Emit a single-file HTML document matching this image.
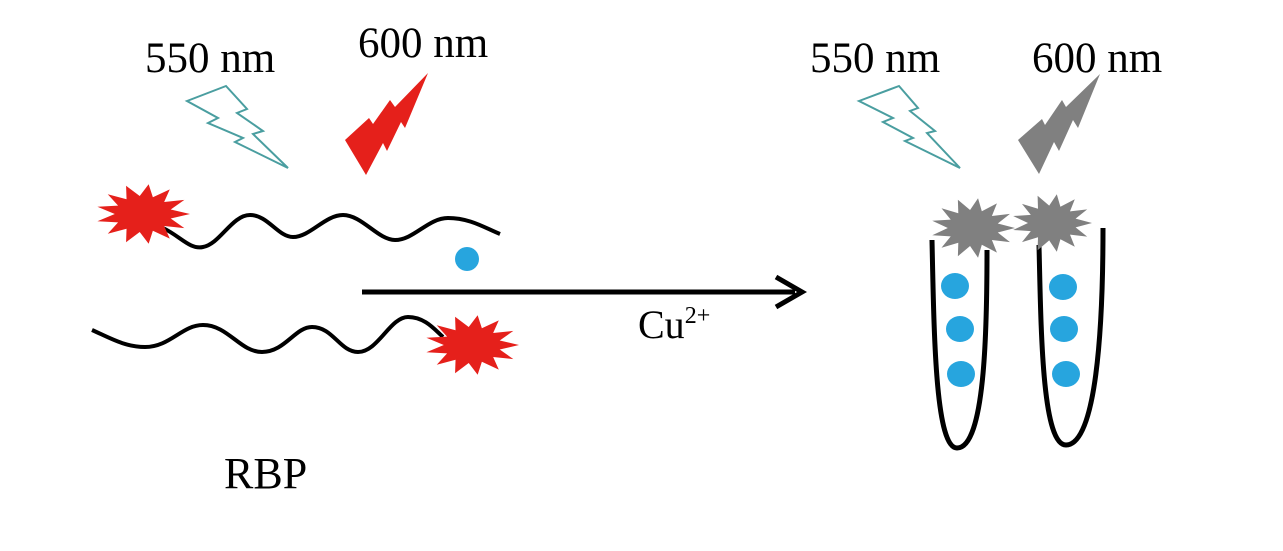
<!DOCTYPE html>
<html><head><meta charset="utf-8"><style>
html,body{margin:0;padding:0;background:#fff;}
svg{display:block;}
text{font-family:"Liberation Serif",serif;fill:#000;}
</style></head><body>
<svg width="1283" height="551" viewBox="0 0 1283 551" xmlns="http://www.w3.org/2000/svg">
<defs>
<polygon id="star" points="100,0 59,15 88,47 45,40 57,82 21,56 12,99 -7,60 -36,94 -35,49 -75,66 -53,28 -97,24 -60,0 -97,-24 -53,-28 -75,-66 -35,-49 -36,-94 -7,-60 12,-99 21,-56 57,-82 45,-40 88,-47 59,-15"/>
</defs>
<!-- labels -->
<text x="145" y="72" font-size="43">550 nm</text>
<text x="358" y="57" font-size="43">600 nm</text>
<text x="810" y="72" font-size="43">550 nm</text>
<text x="1032" y="72" font-size="43">600 nm</text>
<text x="224" y="488" font-size="44">RBP</text>
<text x="638" y="338" font-size="40">Cu<tspan font-size="24" dy="-15">2+</tspan></text>

<!-- left bolts -->
<polygon points="187,101 226,86 247,109 237,113 263,131 253,134 288,168 235,142 243,138 208,123 218,118" fill="none" stroke="#4a9ea0" stroke-width="2"/>
<polygon points="428,73 405,128 401,122 387,151 383,143 366,175 345,140 369,118 373,124 390,100 395,107" fill="#e5201b"/>

<!-- waves -->
<path d="M163,228 C180,236 190,250 203,247 C220,244 232,215 250,215 C268,215 278,237 293,237 C310,237 325,215 343,215 C362,215 378,240 395,240 C414,240 428,218 448,218 C470,218 485,228 500,234" fill="none" stroke="#000" stroke-width="4"/>
<path d="M92,330 C110,338 125,347 145,347 C170,347 182,325 203,325 C228,325 240,352 262,352 C285,352 295,327 312,327 C333,327 340,352 358,352 C378,352 390,317 408,317 C425,317 435,330 443,337" fill="none" stroke="#000" stroke-width="4"/>
<use href="#star" transform="translate(143,214) scale(0.47,0.30)" fill="#e5201b"/>
<use href="#star" transform="translate(472,345) scale(0.47,0.30)" fill="#e5201b"/>

<!-- arrow -->
<circle cx="467" cy="259" r="12" fill="#27a5de"/>
<line x1="362" y1="292" x2="795" y2="292" stroke="#000" stroke-width="5"/>
<polyline points="776,277 802,292 776,307" fill="none" stroke="#000" stroke-width="5"/>

<!-- right bolts -->
<polygon points="859,101 899,86 918,108 910,111 935,131 927,133 960,168 905,141 913,138 883,122 893,118" fill="none" stroke="#4a9ea0" stroke-width="2"/>
<polygon points="1100,74 1078,128 1073,120 1059,151 1054,142 1039,174 1018,140 1042,119 1045,125 1062,100 1066,107" fill="#808080"/>

<!-- tubes -->
<path d="M932,240 C934,330 935,448 957,448 C985,448 987,330 987,250" fill="none" stroke="#000" stroke-width="5"/>
<path d="M1039,245 C1041,330 1042,445 1066,445 C1096,445 1103,330 1103,228" fill="none" stroke="#000" stroke-width="5"/>
<use href="#star" transform="translate(973,228) scale(0.42,0.30)" fill="#808080"/>
<use href="#star" transform="translate(1052,223) scale(0.40,0.29)" fill="#808080"/>
<ellipse cx="955" cy="286" rx="14" ry="13" fill="#27a5de"/>
<ellipse cx="960" cy="329" rx="14" ry="13" fill="#27a5de"/>
<ellipse cx="961" cy="374" rx="14" ry="13" fill="#27a5de"/>
<ellipse cx="1063" cy="287" rx="14" ry="13" fill="#27a5de"/>
<ellipse cx="1064" cy="329" rx="14" ry="13" fill="#27a5de"/>
<ellipse cx="1066" cy="374" rx="14" ry="13" fill="#27a5de"/>
</svg>
</body></html>
